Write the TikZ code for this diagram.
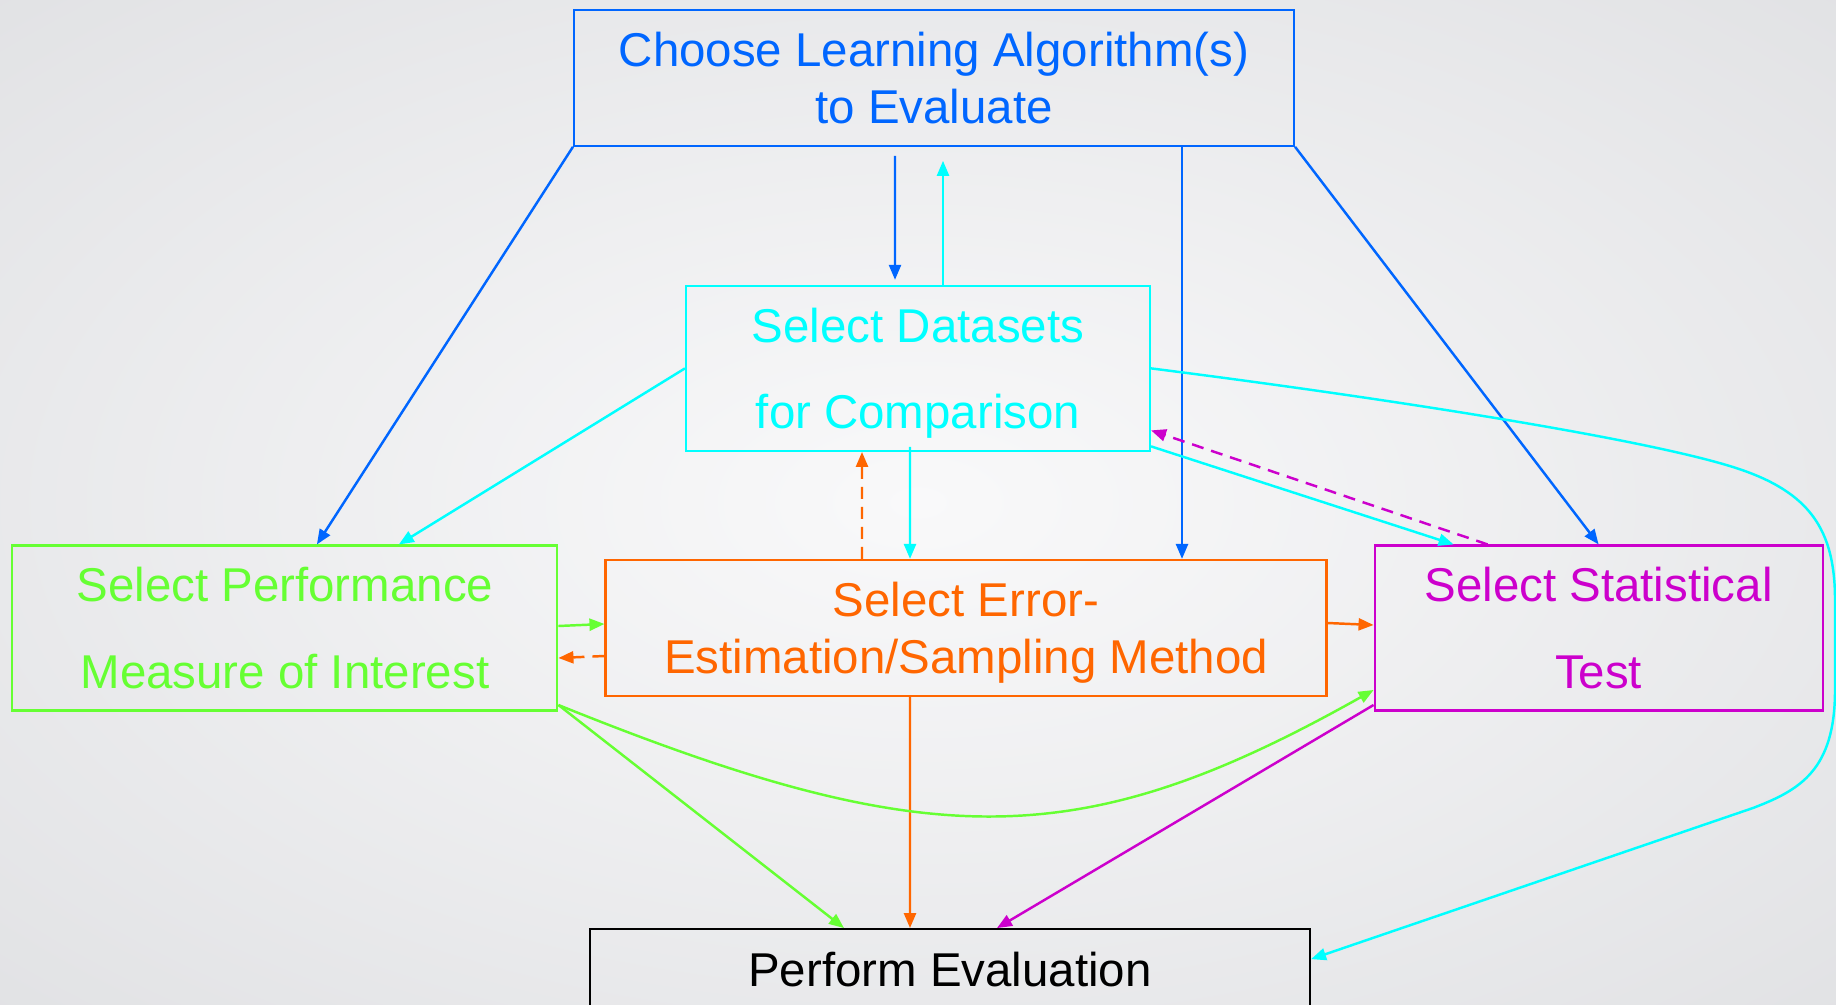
\documentclass[tikz,border=0pt]{standalone}
\usepackage{fontspec}
\setmainfont{Liberation Sans}
\usetikzlibrary{arrows.meta, positioning}
\definecolor{algoblue}{HTML}{0066FF}
\definecolor{datacyan}{HTML}{00FFFF}
\definecolor{perfgreen}{HTML}{66FF33}
\definecolor{errorange}{HTML}{FF6600}
\definecolor{statpurple}{HTML}{CC00CC}
\definecolor{bgin}{HTML}{F9F9FA}
\definecolor{bgout}{HTML}{D8D9DC}
\pgfdeclareradialshading{backdrop}{\pgfpoint{0bp}{0bp}}{color(0bp)=(bgin); color(50bp)=(bgout)}
\newcommand{\nodrop}[1]{\raisebox{0pt}[\height][0pt]{#1}}

\begin{document}
\begin{tikzpicture}[
  stage/.style={draw, line width=0.6pt, align=center, inner sep=0pt},
  tight/.style={font=\fontsize{13.5}{16.3}\selectfont},
  loose/.style={font=\fontsize{13.5}{24.6}\selectfont},
  flow/.style={-{Triangle[length=1.5mm, width=1.2mm]}, line width=0.7pt},
  back/.style={flow, dash pattern=on 1.2mm off 0.8mm}
]
\clip (0,0) rectangle (183.6mm,-100.5mm);
\shade[shading=backdrop] (0,0) rectangle (183.6mm,-100.5mm);

\node[stage, tight, errorange, minimum width=72.1mm, minimum height=13.6mm] (E) at (96.6mm,-62.8mm) {Select Error-\\\nodrop{Estimation/Sampling Method}};
\node[stage, loose, perfgreen, minimum width=54.5mm, minimum height=16.5mm, left=4.6mm of E] (P) {Select Performance\\Measure of Interest};
\node[stage, loose, statpurple, minimum width=44.8mm, minimum height=16.5mm, right=4.6mm of E] (S) {Select Statistical\\Test};
\node[stage, loose, datacyan, minimum width=46.4mm, minimum height=16.5mm, above=10.7mm of E, xshift=-4.8mm] (D) {Select Datasets\\\nodrop{for Comparison}};
\node[stage, tight, algoblue, minimum width=72mm, minimum height=13.6mm, above=13.8mm of D, xshift=1.6mm] (A) {Choose Learning Algorithm(s)\\to Evaluate};
\node[stage, tight, black, minimum width=72mm, minimum height=8mm, below=23.1mm of E, xshift=-1.6mm] (V) {Perform Evaluation};

% from the algorithm box
\draw[flow, algoblue] (A.south west) -- ([xshift=3.2mm]P.north);
\draw[flow, algoblue] ([xshift=-3.9mm, yshift=-0.9mm]A.south) -- ([xshift=-2.3mm, yshift=0.5mm]D.north);
\draw[flow, algoblue] ([xshift=24.8mm]A.south) -- ([xshift=21.6mm]E.north);
\draw[flow, algoblue] (A.south east) -- (S.north);
% from the datasets box
\draw[flow, datacyan] ([xshift=2.5mm]D.north) -- ([xshift=0.9mm, yshift=-1.4mm]A.south);
\draw[flow, datacyan] (D.west) -- ([xshift=11.4mm]P.north);
\draw[flow, datacyan] ([xshift=-0.8mm, yshift=0.5mm]D.south) -- ([xshift=-5.6mm]E.north);
\draw[flow, datacyan] ([yshift=-7.8mm]D.east) -- ([xshift=-14.5mm]S.north);
\draw[flow, datacyan] (D.east)
  .. controls (140mm,-40mm) and (165mm,-44mm) .. (173.6mm,-46.8mm)
  .. controls (181mm,-49.2mm) and (183.5mm,-53mm) .. (183.5mm,-60mm)
  -- (183.5mm,-69mm)
  .. controls (183.5mm,-77mm) and (180mm,-79mm) .. (175.3mm,-80.8mm)
  -- ([yshift=1mm]V.east);
% dashed links back
\draw[back, statpurple] ([xshift=-11.1mm]S.north) -- ([yshift=-6.2mm]D.east);
\draw[back, errorange] ([xshift=-10.4mm]E.north) -- ([xshift=-5.6mm]D.south);
\draw[back, errorange] ([yshift=-2.8mm]E.west) -- ([yshift=-3mm]P.east);
% side links
\draw[flow, perfgreen] ([yshift=0.2mm]P.east) -- ([yshift=0.4mm]E.west);
\draw[flow, errorange] ([yshift=0.5mm]E.east) -- ([yshift=0.3mm]S.west);
% into the evaluation
\draw[flow, errorange] ([xshift=-5.6mm]E.south) -- ([xshift=-4mm]V.north);
\draw[flow, perfgreen] ([yshift=-7.7mm]P.east) -- ([xshift=-10.6mm]V.north);
\draw[flow, perfgreen] ([yshift=-7.7mm]P.east) .. controls (93mm,-85.5mm) and (108mm,-85.5mm) .. ([yshift=-6.2mm]S.west);
\draw[flow, statpurple] ([yshift=-7.7mm]S.west) -- ([xshift=4.7mm]V.north);
\end{tikzpicture}
\end{document}
